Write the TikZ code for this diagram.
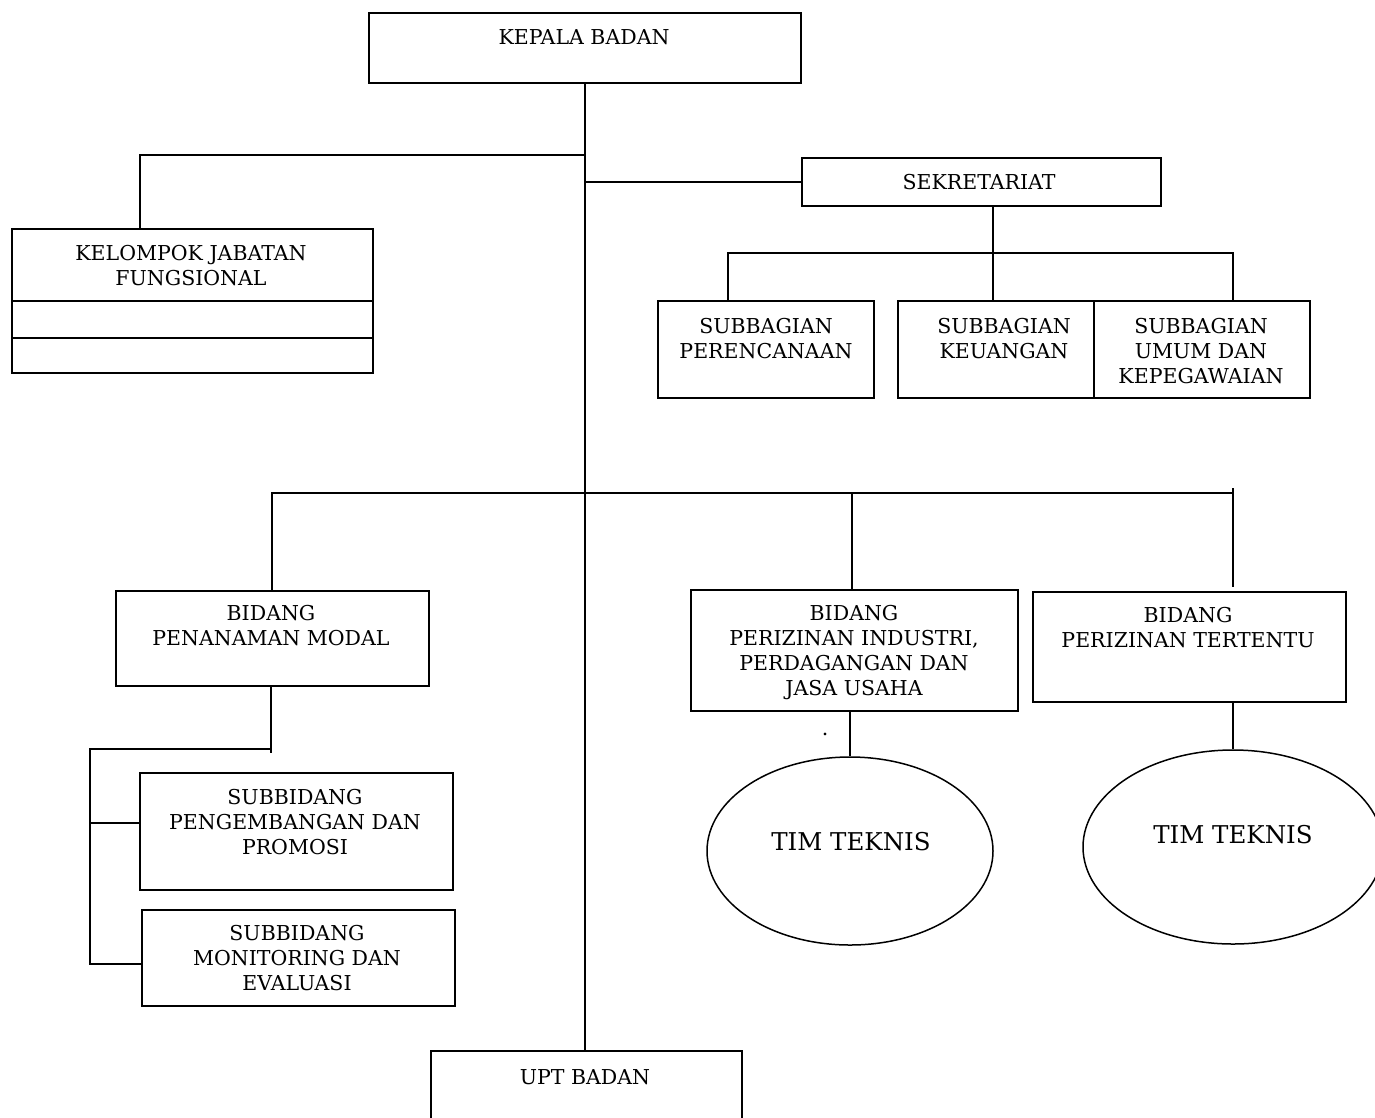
\documentclass[tikz,border=0pt]{standalone}
\usepackage{fontspec}
\setmainfont{DejaVu Serif}
\usetikzlibrary{shapes.geometric}
\begin{document}
\begin{tikzpicture}[x=1pt,y=-1pt,
  box/.style={draw, line width=1.8pt, fill=white, rectangle, inner sep=0pt, anchor=north west},
  txt/.style={font=\fontsize{20.5}{25}\selectfont, align=center, inner sep=0pt, anchor=north},
  bigtxt/.style={font=\fontsize{24.5}{29}\selectfont, inner sep=0pt, anchor=center},
  oval/.style={draw, ellipse, line width=1.5pt, inner sep=0pt, fill=white},
  conn/.style={line width=1.8pt}]
\useasboundingbox (0,0) rectangle (1375,1117);
\clip (0,0) rectangle (1375,1117);

% boxes
\node[box, minimum width=432pt, minimum height=70pt] (kepala) at (368,12) {};
\node[box, minimum width=361pt, minimum height=144pt] (kjf) at (11,228) {};
\node[box, minimum width=359pt, minimum height=48pt] (sek) at (801,157) {};
\node[box, minimum width=216pt, minimum height=97pt] (per) at (657,300) {};
\node[box, minimum width=214pt, minimum height=97pt] (keu) at (897,300) {};
\node[box, minimum width=216pt, minimum height=97pt] (umum) at (1093,300) {};
\node[box, minimum width=313pt, minimum height=95pt] (pen) at (115,590) {};
\node[box, minimum width=327pt, minimum height=121pt] (izin) at (690,589) {};
\node[box, minimum width=313pt, minimum height=110pt] (ter) at (1032,591) {};
\node[box, minimum width=313pt, minimum height=117pt] (sbA) at (139,772) {};
\node[box, minimum width=313pt, minimum height=96pt] (sbB) at (141,909) {};
\node[box, minimum width=311pt, minimum height=100pt] (upt) at (430,1050) {};
\node[oval, minimum width=286pt, minimum height=188pt] (ovA) at (850,851) {};
\node[oval, minimum width=300pt, minimum height=194pt] (ovB) at (1233,847) {};

% inner lines of KJF
\draw[conn] ([yshift=-73pt]kjf.north west) -- ([yshift=-73pt]kjf.north east);
\draw[conn] ([yshift=-110pt]kjf.north west) -- ([yshift=-110pt]kjf.north east);

% texts
\node[txt] (tkepala) at (584,29.5) {KEPALA BADAN};
\node[txt] (tkjf) at (191,245.5) {KELOMPOK JABATAN\\FUNGSIONAL};
\node[txt] (tsek) at (979,174.5) {SEKRETARIAT};
\node[txt] (tper) at (766,318.5) {SUBBAGIAN\\PERENCANAAN};
\node[txt] (tkeu) at (1004,318) {SUBBAGIAN\\KEUANGAN};
\node[txt] (tumum) at (1201,318) {SUBBAGIAN\\UMUM DAN\\KEPEGAWAIAN};
\node[txt] (tpen) at (271,605.5) {BIDANG\\PENANAMAN MODAL};
\node[txt] (tizin) at (854,605.5) {BIDANG\\PERIZINAN INDUSTRI,\\PERDAGANGAN DAN\\JASA USAHA};
\node[txt] (tter) at (1188,607.5) {BIDANG\\PERIZINAN TERTENTU};
\node[txt] (tsbA) at (295,789.5) {SUBBIDANG\\PENGEMBANGAN DAN\\PROMOSI};
\node[txt] (tsbB) at (297,925.5) {SUBBIDANG\\MONITORING DAN\\EVALUASI};
\node[txt] (tupt) at (585,1069.5) {UPT BADAN};
\node[bigtxt] (ttimA) at (851,842) {TIM TEKNIS};
\node[bigtxt] (ttimB) at (1233,835) {TIM TEKNIS};
\node[font=\fontsize{20.5}{25}\selectfont, inner sep=0pt, anchor=base] (dot) at (825,735) {.};

% coordinates for connectors
\coordinate (jKJF) at (584,155);
\coordinate (kjfTop) at (140,228);
\coordinate (sekBot) at (993,205);
\coordinate (sekBar) at (993,253);
\coordinate (perTop) at (728,300);
\coordinate (keuTop) at (993,300);
\coordinate (umTop) at (1233,300);
\coordinate (penTop) at (272,590);
\coordinate (izinTop) at (852,589);
\coordinate (terTick) at (1233,488);
\coordinate (terTop) at (1233,587);
\coordinate (barY) at (584,493);
\coordinate (penBot) at (271,685);
\coordinate (penJ) at (271,753);
\coordinate (subBarR) at (271,749);
\coordinate (subBarL) at (90,749);
\coordinate (sbAj) at (139,823);
\coordinate (sbBj) at (141,964);

% connectors
\draw[conn] (kepala.south) -- (kepala.south |- upt.north);
\draw[conn] (jKJF) -| (kjfTop);
\draw[conn] (kepala.south |- sek.west) -- (sek.west);
\draw[conn] (sekBot) -- (sekBar) -- (keuTop);
\draw[conn] (perTop) |- (umTop |- sekBar) -- (umTop);
\draw[conn] (penTop) |- (terTick |- barY);
\draw[conn] (terTick) -- (terTop);
\draw[conn] (izinTop) -- (izinTop |- barY);
\draw[conn] (penBot) -- (penJ);
\draw[conn] (subBarR) -- (subBarL) |- (sbBj);
\draw[conn] (subBarL |- sbAj) -- (sbAj);
\draw[conn] (izin.south -| ovA.north) -- (ovA.north);
\draw[conn] (ter.south -| ovB.north) -- (ovB.north);
\end{tikzpicture}
\end{document}
